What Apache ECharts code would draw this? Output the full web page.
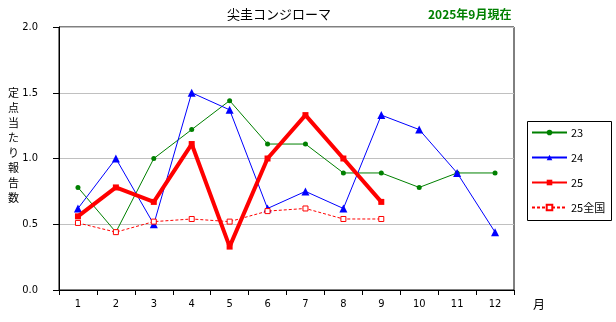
<!DOCTYPE html>
<html>
<head>
<meta charset="utf-8">
<script src="https://cdn.jsdelivr.net/npm/echarts@6/dist/echarts.min.js"></script>
<style>
  html, body { margin: 0; padding: 0; background: #fff; }
  #chart { width: 616px; height: 322px; }
</style>
</head>
<body>
<div id="chart"></div>
<script>
// Months on the category axis
const months = ['1', '2', '3', '4', '5', '6', '7', '8', '9', '10', '11', '12'];
// Reports per sentinel site, by year
const s23 = [0.78, 0.44, 1.00, 1.22, 1.44, 1.11, 1.11, 0.89, 0.89, 0.78, 0.89, 0.89];
const s24 = [0.62, 1.00, 0.50, 1.50, 1.37, 0.62, 0.75, 0.62, 1.33, 1.22, 0.89, 0.44];
const s25 = [0.56, 0.78, 0.67, 1.11, 0.33, 1.00, 1.33, 1.00, 0.67];
const s25nat = [0.51, 0.44, 0.52, 0.54, 0.52, 0.60, 0.62, 0.54, 0.54];
const yTicks = ['0.0', '0.5', '1.0', '1.5', '2.0'];
const yName = '定点当たり報告数';

const numFont = '"Liberation Sans Narrow", "DejaVu Sans Condensed", "Noto Sans CJK JP", sans-serif';
const jpFont = '"Noto Sans CJK JP", sans-serif';

const chart = echarts.init(document.getElementById('chart'), null, { renderer: 'canvas' });

// Axis title written top to bottom, one character per line
const yNameChars = yName.split('').map((ch, i) => ({
  type: 'text', left: 8, top: 87 + i * 15,
  style: { text: ch, font: '11px ' + jpFont, fill: '#000' }
}));

chart.setOption({
  animation: false,
  backgroundColor: '#fff',
  grid: {
    left: 59, right: 102, top: 27, bottom: 32,
    show: true, borderColor: '#000', borderWidth: 1, backgroundColor: 'transparent'
  },
  legend: {
    orient: 'vertical',
    left: 531, top: 127,
    padding: 0,
    itemWidth: 35, itemHeight: 7, itemGap: 14,
    textStyle: { fontFamily: jpFont, fontSize: 11, color: '#000', padding: [0, 0, 0, -1] },
    data: ['23', '24', '25', '25全国']
  },
  xAxis: {
    type: 'category',
    data: months,
    boundaryGap: true,
    axisLine: { lineStyle: { color: '#000', width: 1 } },
    axisTick: { show: true, length: 5, inside: false, lineStyle: { color: '#000' } },
    axisLabel: { fontFamily: numFont, fontSize: 11, color: '#000', margin: 9 },
    splitLine: { show: false }
  },
  yAxis: {
    type: 'value',
    min: 0, max: 2, interval: 0.5,
    axisLine: { show: true, lineStyle: { color: '#000', width: 1 } },
    axisTick: { show: true, length: 6, lineStyle: { color: '#000' } },
    axisLabel: {
      fontFamily: numFont, fontSize: 11, color: '#000', margin: 21,
      formatter: (v) => yTicks[Math.round(v / 0.5)]
    },
    splitLine: { show: true, lineStyle: { color: '#c0c0c0', width: 1 } }
  },
  series: [
    {
      name: '23', type: 'line', data: s23,
      symbol: 'circle', symbolSize: 5,
      lineStyle: { color: '#008000', width: 1 },
      itemStyle: { color: '#008000' },
      z: 2
    },
    {
      name: '24', type: 'line', data: s24,
      symbol: 'triangle', symbolSize: 8,
      lineStyle: { color: '#0000ff', width: 1 },
      itemStyle: { color: '#0000ff' },
      z: 3
    },
    {
      name: '25全国', type: 'line', data: s25nat,
      symbol: 'rect', symbolSize: 5,
      lineStyle: { color: '#ff0000', width: 1, type: [3, 2] },
      itemStyle: { color: '#fff', borderColor: '#ff0000', borderWidth: 1 },
      z: 4
    },
    {
      name: '25', type: 'line', data: s25,
      symbol: 'rect', symbolSize: 6,
      lineStyle: { color: '#ff0000', width: 4 },
      itemStyle: { color: '#ff0000' },
      z: 5
    }
  ],
  graphic: [
    {
      type: 'text', left: 227, top: 8,
      style: { text: '尖圭コンジローマ', font: '13px ' + jpFont, fill: '#000' }
    },
    {
      type: 'text', left: 428, top: 8,
      style: { text: '2025年9月現在', font: 'bold 12px ' + jpFont, fill: '#008000' }
    },
    {
      type: 'text', left: 533, top: 298,
      style: { text: '月', font: '12px ' + jpFont, fill: '#000' }
    },
    {
      type: 'rect', left: 525, top: 119,
      shape: { width: 84, height: 99 },
      style: { fill: 'none', stroke: '#000', lineWidth: 1 },
      z: -1
    }
  ].concat(yNameChars)
});
</script>
</body>
</html>
